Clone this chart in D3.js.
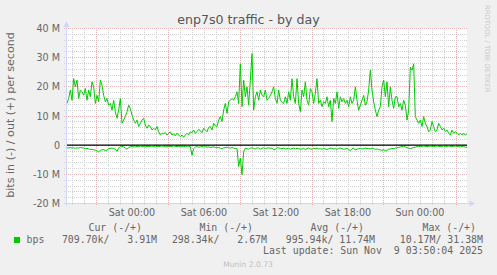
<!DOCTYPE html>
<html><head><meta charset="utf-8">
<script src="https://cdn.jsdelivr.net/npm/d3@7"></script>
<style>html,body{margin:0;padding:0;background:#f0f0f0;} svg{display:block;}</style>
</head><body>
<svg id="c" width="497" height="275"></svg>
<script>
const title = "enp7s0 traffic - by day";
const yLabel = "bits in (-) / out (+) per second";
const startTime = Date.UTC(2025, 10, 7, 18, 35);
const stepMs = 500000; // 8m20s per sample
// out (+) in Mbit/s
const outMbps = [
14.3,16.0,18.9,15.4,22.8,20.0,22.3,16.0,18.9,18.3,
17.1,19.4,15.4,18.9,16.6,21.7,20.0,14.3,17.1,14.9,
22.3,20.6,17.1,14.9,16.0,13.7,14.3,12.0,15.4,11.5,
9.2,12.0,16.0,7.5,8.6,9.8,11.5,13.7,12.6,10.3,
8.6,7.5,8.6,6.4,7.5,8.6,9.2,6.9,5.8,6.9,
6.4,5.2,5.8,5.2,6.4,4.6,3.5,4.1,3.9,4.3,
3.5,4.1,4.6,3.5,3.9,3.2,4.1,3.5,2.9,3.5,
2.7,3.5,4.1,3.5,4.6,4.3,5.2,4.1,4.6,5.4,
5.0,4.3,5.8,5.2,4.6,6.1,6.4,5.2,7.5,6.6,
6.4,8.6,9.8,8.1,12.0,14.3,10.9,14.9,15.4,16.0,
15.4,16.6,18.3,14.3,27.9,13.2,22.3,16.6,20.0,13.7,
22.3,31.4,12.0,16.6,18.3,15.4,18.9,17.1,16.6,18.9,
15.4,16.0,17.1,18.3,20.0,16.0,14.3,18.9,15.4,
14.9,14.3,16.6,14.3,18.3,15.4,22.8,16.6,14.3,22.8,
14.3,11.5,18.9,16.6,21.7,15.4,13.7,19.4,18.3,14.3,
17.7,22.8,14.3,15.4,13.2,14.9,14.3,16.6,13.2,15.4,
8.1,16.0,14.3,18.3,12.6,16.6,14.9,16.0,14.3,15.4,
13.2,16.6,14.3,15.4,20.0,15.4,12.0,13.7,15.4,17.1,
13.7,14.9,18.9,25.7,18.9,14.9,12.0,9.8,12.0,13.2,
20.0,22.3,16.6,21.7,13.2,20.0,15.4,12.6,16.6,16.6,
13.2,14.3,12.0,15.4,13.7,8.6,12.0,26.8,25.7,27.9,
9.8,8.6,7.5,8.6,6.4,9.8,7.5,6.4,4.6,5.2,
8.1,6.4,4.6,5.2,7.5,6.4,5.2,5.8,4.6,5.2,
4.1,3.5,5.2,4.1,4.6,4.1,3.5,4.1,3.5,4.1,
3.5,3.9
];
// in (-) in Mbit/s (plotted negative)
const inMbps = [
0.9,1.0,0.8,1.0,0.9,1.1,0.9,1.0,0.8,0.9,
1.0,1.2,1.1,1.3,1.5,1.4,1.6,1.7,1.9,2.4,
1.8,1.6,1.5,1.9,1.7,1.2,1.1,1.0,1.2,1.4,
2.1,1.0,0.4,0.4,0.6,1.0,1.4,0.8,0.6,0.4,
0.5,0.6,0.4,0.5,0.3,0.4,0.5,0.6,0.4,0.5,
0.4,0.3,0.5,0.6,0.4,0.5,0.4,0.3,0.4,0.5,
0.6,0.4,0.5,0.4,0.3,0.4,0.5,0.4,0.6,0.5,
0.4,0.5,0.3,0.4,0.5,3.5,1.2,0.6,0.5,0.7,
0.6,0.5,0.6,0.5,0.7,0.6,0.8,0.7,0.6,0.8,
0.9,0.8,1.0,1.25,0.9,0.8,0.7,0.9,1.0,0.8,
1.0,1.1,1.2,7.3,4.4,10.1,2.2,1.0,1.2,1.4,
1.0,0.9,1.1,1.3,0.9,1.0,1.4,1.1,0.9,1.2,
1.0,0.9,1.1,1.0,1.6,1.5,0.8,1.0,1.1,1.2,
1.0,1.3,1.2,1.1,1.4,1.2,1.0,1.3,1.1,1.2,
1.4,1.3,1.1,1.5,1.2,1.0,1.3,1.4,1.1,1.2,
1.0,1.3,1.2,1.4,1.1,1.3,1.5,1.2,1.0,1.1,
1.3,1.2,1.4,1.1,1.0,1.2,1.4,1.3,1.1,1.5,
1.9,1.2,1.0,1.7,1.4,1.2,1.1,1.3,1.2,1.0,
1.2,1.1,1.3,1.0,1.2,1.4,1.3,1.5,1.6,1.8,
1.5,1.9,1.7,1.4,1.3,1.1,1.2,1.0,0.9,0.8,
0.6,0.5,0.4,0.6,0.9,1.0,1.2,1.0,0.8,0.7,
0.5,0.4,0.5,0.4,0.3,0.4,0.5,0.4,0.3,0.4,
0.5,0.4,0.3,0.4,0.5,0.4,0.3,0.5,0.4,0.3,
0.4,0.5,0.4,0.3,0.4,0.5,0.6,0.4,0.5,0.7,
0.7
];
const yTicks = [-20, -10, 0, 10, 20, 30, 40];
const yTickLabels = ["-20 M", "-10 M", "0", "10 M", "20 M", "30 M", "40 M"];
const xLabelHours = [0, 6, 12, 18];
const xMajorHours = [3, 9, 15, 21];
const legendHeaders = ["Cur (-/+)", "Min (-/+)", "Avg (-/+)", "Max (-/+)"];
const legendValues = ["709.70k/   3.91M", "298.34k/   2.67M", "995.94k/ 11.74M", "10.17M/ 31.38M"];
const seriesName = "bps";
const lastUpdate = "Last update: Sun Nov  9 03:50:04 2025";
const version = "Munin 2.0.73";
const watermark = "RRDTOOL / TOBI OETIKER";

const svg = d3.select("#c");
const W = 497, H = 275;
const L = 67, R = 467, T = 28, B = 204;
const lineColor = "#00cc00";
const fontColor = "#666666";
const axisColor = "#cfd6f8";

svg.append("rect").attr("width", W).attr("height", H).attr("fill", "#f0f0f0");
svg.append("rect").attr("x", L).attr("y", T).attr("width", R - L).attr("height", B - T).attr("fill", "#ffffff");

const endTime = startTime + (outMbps.length - 1) * stepMs;
const x = d3.scaleUtc().domain([startTime, endTime]).range([L, R]);
const y = d3.scaleLinear().domain([-20, 40]).range([203.5, 28.5]);
const px = v => Math.floor(v) + 0.5;

// horizontal grid
const g = svg.append("g");
const minorY = d3.range(-20, 41, 2).filter(v => v % 10 !== 0);
g.selectAll(".hmin").data(minorY).join("line")
  .attr("x1", L - 3).attr("x2", R).attr("y1", d => px(y(d))).attr("y2", d => px(y(d)))
  .attr("stroke", "#d0d0d0").attr("stroke-dasharray", "1,1");
// vertical grid
const hours = d3.utcHour.range(new Date(startTime), new Date(endTime + 1));
g.selectAll(".vmin").data(hours.filter(h => !xMajorHours.includes(h.getUTCHours()))).join("line")
  .attr("x1", d => px(x(d))).attr("x2", d => px(x(d))).attr("y1", T).attr("y2", B + 2)
  .attr("stroke", "#d0d0d0").attr("stroke-dasharray", "1,1");
g.selectAll(".vmaj").data(hours.filter(h => xMajorHours.includes(h.getUTCHours()))).join("line")
  .attr("x1", d => px(x(d))).attr("x2", d => px(x(d))).attr("y1", T).attr("y2", B + 2)
  .attr("stroke", "#ebb4b4").attr("stroke-dasharray", "1,1");
g.selectAll(".hmaj").data(yTicks.filter(v => v !== -20)).join("line")
  .attr("x1", L - 3).attr("x2", R).attr("y1", d => px(y(d))).attr("y2", d => px(y(d)))
  .attr("stroke", "#ebb4b4").attr("stroke-dasharray", "1,1");

// y tick labels
svg.append("g").selectAll("text").data(yTicks).join("text")
  .attr("x", 60).attr("y", d => y(d) + 3.5).attr("text-anchor", "end")
  .attr("font-family", "DejaVu Sans").attr("font-size", 9.6).attr("fill", fontColor)
  .text((d, i) => yTickLabels[i]);

// x tick labels
const fmt = d3.utcFormat("%a %H:%M");
svg.append("g").selectAll("text").data(hours.filter(h => xLabelHours.includes(h.getUTCHours()))).join("text")
  .attr("x", d => x(d)).attr("y", 216).attr("text-anchor", "middle")
  .attr("font-family", "DejaVu Sans").attr("font-size", 9.6).attr("fill", fontColor)
  .text(d => fmt(d));

// zero line
svg.append("line").attr("x1", L).attr("x2", R).attr("y1", y(0)).attr("y2", y(0))
  .attr("stroke", "#000").attr("stroke-width", 1.3);

// series
const line = d3.line().x(d => x(d.t)).y(d => y(d.v));
const outData = outMbps.map((v, i) => ({ t: startTime + i * stepMs, v }));
const inData = inMbps.map((v, i) => ({ t: startTime + i * stepMs, v: -v }));
svg.append("path").datum(outData).attr("d", line).attr("fill", "none").attr("stroke", lineColor).attr("stroke-width", 1);
svg.append("path").datum(inData).attr("d", line).attr("fill", "none").attr("stroke", lineColor).attr("stroke-width", 1);

// axes
svg.append("line").attr("x1", 66.5).attr("x2", 66.5).attr("y1", B + 2).attr("y2", 25).attr("stroke", axisColor);
svg.append("line").attr("x1", 64).attr("x2", 470).attr("y1", 203.5).attr("y2", 203.5).attr("stroke", axisColor);
svg.append("path").attr("d", "M66.5,21.5 L69.5,27 L63.5,27 Z").attr("fill", axisColor);
svg.append("path").attr("d", "M475,203.5 L469.5,200.5 L469.5,206.5 Z").attr("fill", axisColor);

// title
svg.append("text").attr("x", 248.5).attr("y", 23.5).attr("text-anchor", "middle")
  .attr("font-family", "DejaVu Sans").attr("font-size", 12.6).attr("fill", "#555")
  .text(title);
// y label
svg.append("text").attr("transform", "translate(13.5,115) rotate(-90)").attr("text-anchor", "middle")
  .attr("font-family", "DejaVu Sans").attr("font-size", 11.1).attr("fill", fontColor)
  .text(yLabel);
// watermark
svg.append("text").attr("transform", "translate(485,5) rotate(90)").attr("text-anchor", "start")
  .attr("font-family", "DejaVu Sans").attr("font-size", 6.8).attr("fill", "#c8c8c8")
  .text(watermark);

// legend
const headEnds = [142, 253, 364, 476];
const valEnds = [157, 267, 375, 483];
const mono = "DejaVu Sans Mono";
svg.append("g").selectAll("text").data(legendHeaders).join("text")
  .attr("x", (d, i) => headEnds[i]).attr("y", 231.2).attr("text-anchor", "end")
  .attr("xml:space", "preserve").style("white-space", "pre")
  .attr("font-family", mono).attr("font-size", 9.9).attr("fill", fontColor).text(d => d);
svg.append("g").selectAll("text").data(legendValues).join("text")
  .attr("x", (d, i) => valEnds[i]).attr("y", 242.8).attr("text-anchor", "end")
  .attr("xml:space", "preserve").style("white-space", "pre")
  .attr("font-family", mono).attr("font-size", 9.9).attr("fill", fontColor).text(d => d);
svg.append("rect").attr("x", 14).attr("y", 237).attr("width", 6).attr("height", 6).attr("fill", lineColor);
svg.append("text").attr("x", 26.5).attr("y", 242.8)
  .attr("font-family", mono).attr("font-size", 9.9).attr("fill", fontColor).text(seriesName);
svg.append("text").attr("x", 483).attr("y", 254.2).attr("text-anchor", "end")
  .attr("xml:space", "preserve").style("white-space", "pre")
  .attr("font-family", mono).attr("font-size", 9.9).attr("fill", fontColor).text(lastUpdate);
svg.append("text").attr("x", 248).attr("y", 267).attr("text-anchor", "middle")
  .attr("font-family", "DejaVu Sans").attr("font-size", 7.6).attr("fill", "#c0c0c0").text(version);
</script>
</body></html>
